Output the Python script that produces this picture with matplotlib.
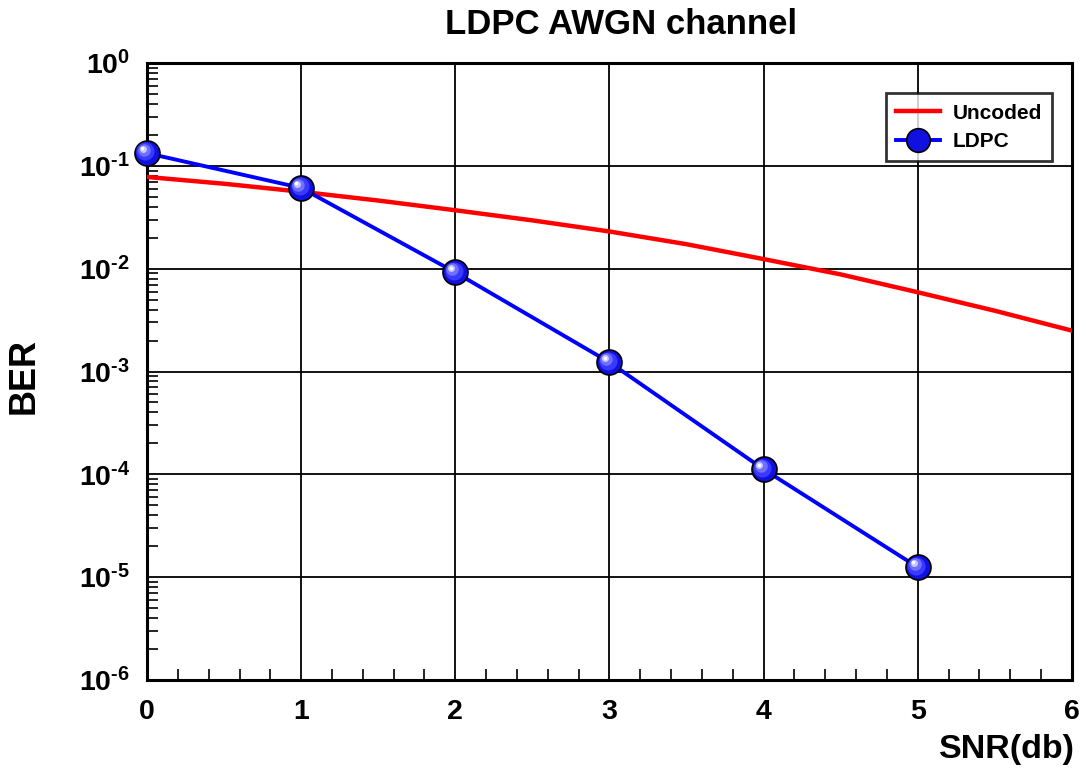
import numpy as np
import matplotlib
matplotlib.use("Agg")
import matplotlib.pyplot as plt
import matplotlib.transforms as mtransforms
from matplotlib.ticker import FixedLocator, LogLocator, MultipleLocator, NullFormatter

plt.rcParams["font.family"] = ["Liberation Sans", "DejaVu Sans"]
plt.rcParams["font.weight"] = "bold"
plt.rcParams["mathtext.fontset"] = "custom"
plt.rcParams["mathtext.rm"] = "Liberation Sans:bold"
plt.rcParams["mathtext.bf"] = "Liberation Sans:bold"

# values
snr_uncoded = [0, 0.5, 1, 1.5, 2, 2.5, 3, 3.5, 4, 4.5, 5, 5.5, 6]
ber_uncoded = [0.078, 0.067, 0.056, 0.046, 0.037, 0.0295, 0.023, 0.0173,
               0.0124, 0.0088, 0.0059, 0.0039, 0.0025]
snr_ldpc = [0, 1, 2, 3, 4, 5]
ber_ldpc = [0.133, 0.061, 0.0092, 1.23e-3, 1.12e-4, 1.25e-5]

x_ticks = [0, 1, 2, 3, 4, 5, 6]
y_exponents = [0, -1, -2, -3, -4, -5, -6]

fig = plt.figure(figsize=(10.86, 7.81), dpi=100)
ax = fig.add_axes([0.1354, 0.1293, 0.8516, 0.79])

ax.plot(snr_uncoded, ber_uncoded, color="#ff0000", lw=3.2, label="Uncoded",
        zorder=3)
ax.plot(snr_ldpc, ber_ldpc, color="#0000ff", lw=2.8, marker="o", ms=18,
        mfc="#1010e0", mec="black", mew=1.2, label="LDPC", zorder=4,
        clip_on=False)

# shading on the spheres: lighter blobs shifted up-left
for size, col, dx, dy in [(13, "#3a3aff", -1.2, 1.2), (9, "#7070ff", -2.2, 2.2),
                          (5, "#c8c8ff", -3.0, 3.0), (2.5, "white", -3.4, 3.4)]:
    off = mtransforms.ScaledTranslation(dx / 72, dy / 72, fig.dpi_scale_trans)
    ax.plot(snr_ldpc, ber_ldpc, ls="none", marker="o", ms=size, mfc=col,
            mec="none", transform=ax.transData + off, zorder=5, clip_on=False)

ax.set_yscale("log")
ax.set_xlim(0, 6)
ax.set_ylim(1e-6, 1)

ax.xaxis.set_major_locator(FixedLocator(x_ticks))
ax.set_xticklabels([str(v) for v in x_ticks])
ax.xaxis.set_minor_locator(MultipleLocator(0.2))
ax.yaxis.set_major_locator(FixedLocator([10.0 ** e for e in y_exponents]))
ax.set_yticklabels([rf"$\mathbf{{10^{{\text{{{e}}}}}}}$" for e in y_exponents])
ax.yaxis.set_minor_locator(LogLocator(base=10, subs=np.arange(2, 10), numticks=20))
ax.yaxis.set_minor_formatter(NullFormatter())

ax.tick_params(axis="both", which="major", direction="in", length=0,
               labelsize=20.5, pad=14)
ax.tick_params(axis="y", which="major", pad=12)
ax.tick_params(axis="both", which="minor", direction="in", length=8,
               width=1.2, color="black")
ax.tick_params(axis="y", which="minor", right=False)
ax.tick_params(axis="x", which="minor", top=False)

ax.grid(True, which="major", color="black", lw=1.3)
for sp in ax.spines.values():
    sp.set_linewidth(2.2)
    sp.set_color("black")

fig.text(0.022, 0.519, "BER", rotation=90, ha="center", va="center",
         fontsize=26, fontweight="bold")
fig.text(0.99, 0.04, "SNR(db)", ha="right", va="center", fontsize=24.5,
         fontweight="bold")
fig.text(0.572, 0.968, "LDPC AWGN channel", ha="center", va="center",
         fontsize=25, fontweight="bold")

leg = ax.legend(loc="upper right", bbox_to_anchor=(0.99, 0.968), fontsize=15,
                frameon=True, fancybox=False, edgecolor="black",
                handlelength=2.1, borderpad=0.5, labelspacing=0.45,
                handletextpad=0.6)
leg.get_frame().set_linewidth(2.0)
for t in leg.get_texts():
    t.set_fontweight("bold")
leg.legend_handles[1].set_markersize(17)

fig.savefig("out.png", dpi=100, facecolor="white")
